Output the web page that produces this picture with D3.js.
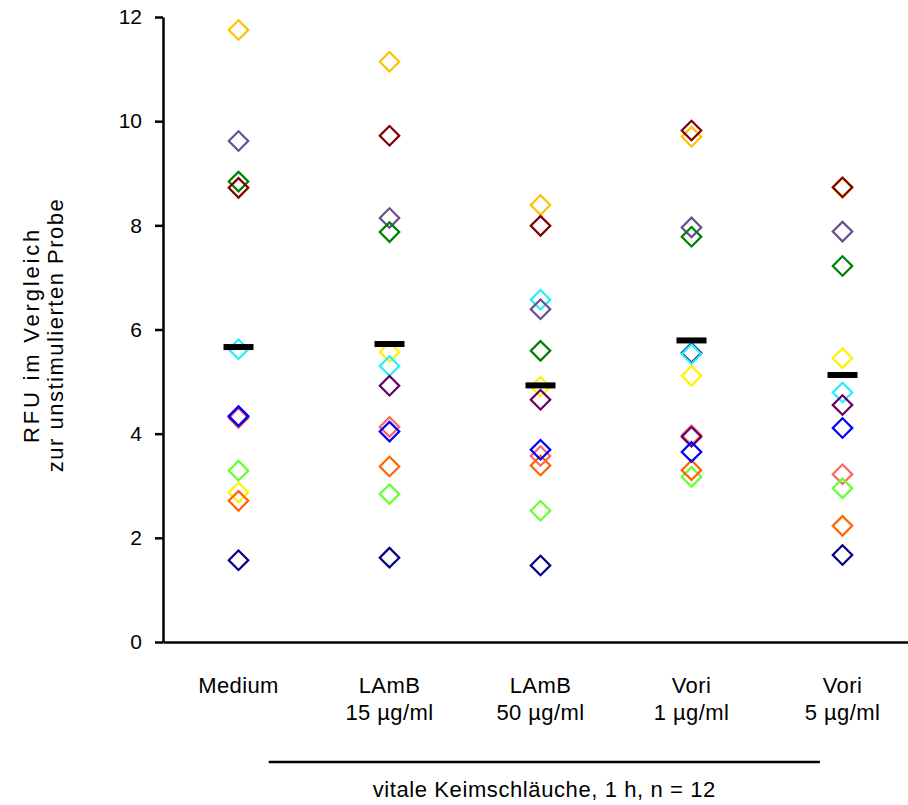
<!DOCTYPE html>
<html>
<head>
<meta charset="utf-8">
<script src="https://cdn.jsdelivr.net/npm/d3@7/dist/d3.min.js"></script>
<style>
  html, body { margin: 0; padding: 0; background: #fff; }
  svg { display: block; }
  text { font-family: "Liberation Sans", Arial, sans-serif; fill: #000; }
</style>
</head>
<body>
<svg id="chart" width="908" height="805"></svg>
<script>
// Treatment groups (two-line labels)
const categories = ["Medium", "LAmB 15", "LAmB 50", "Vori 1", "Vori 5"];
const labelLine1 = ["Medium", "LAmB", "LAmB", "Vori", "Vori"];
const labelLine2 = ["", "15 µg/ml", "50 µg/ml", "1 µg/ml", "5 µg/ml"];
const yTicks = [0, 2, 4, 6, 8, 10, 12];

// One donor per series, values per group in category order; listed in drawing order
const navy       = [1.57, 1.62, 1.47, 5.55, 1.67];
const yellow     = [2.87, 5.57, 4.90, 5.11, 5.45];
const cyan       = [5.62, 5.30, 6.57, 5.53, 4.79];
const salmon     = [4.30, 4.13, 3.57, 3.97, 3.22];
const lightGreen = [3.29, 2.84, 2.52, 3.17, 2.95];
const orange     = [2.71, 3.37, 3.39, 3.30, 2.23];
const gold       = [11.75, 11.14, 8.39, 9.70, 8.72];
const greyPurple = [9.62, 8.14, 6.39, 7.96, 7.88];
const green      = [8.84, 7.87, 5.59, 7.78, 7.22];
const darkRed    = [8.72, 9.72, 7.99, 9.82, 8.73];
const darkPurple = [4.33, 4.92, 4.65, 3.94, 4.55];
const blue       = [4.34, 4.04, 3.69, 3.65, 4.11];

const series = [
  { values: navy,       color: "#000080" },
  { values: yellow,     color: "#FFF200" },
  { values: cyan,       color: "#22EEFF" },
  { values: salmon,     color: "#FF6666" },
  { values: lightGreen, color: "#66FF33" },
  { values: orange,     color: "#FF6600" },
  { values: gold,       color: "#FFC000" },
  { values: greyPurple, color: "#665191" },
  { values: green,      color: "#008000" },
  { values: darkRed,    color: "#800000" },
  { values: darkPurple, color: "#660066" },
  { values: blue,       color: "#0000FF" }
];

const svg = d3.select("#chart");

const x = d3.scaleBand().domain(categories).range([163, 918]);
const y = d3.scaleLinear().domain([0, 12]).range([642, 17]);

// Y axis
const yAxis = svg.append("g")
  .attr("transform", "translate(163,0)")
  .call(d3.axisLeft(y).tickValues(yTicks).tickSize(8).tickSizeOuter(0).tickPadding(13));
yAxis.selectAll("path, line").attr("stroke", "#000").attr("stroke-width", 2.5);
yAxis.selectAll("text").attr("font-size", 21).attr("font-family", "Liberation Sans, Arial, sans-serif").attr("fill", "#000");

// X axis line
const xAxis = svg.append("g")
  .attr("transform", "translate(0,642)")
  .call(d3.axisBottom(x).tickSize(0).tickSizeOuter(0).tickFormat(""));
xAxis.select("path").attr("stroke", "#000").attr("stroke-width", 2.5);

// Group labels
const lbl = svg.append("g").attr("font-size", 22).attr("text-anchor", "middle").style("letter-spacing", "0.4px");
categories.forEach((c, i) => {
  const cx = x(c) + x.bandwidth() / 2;
  lbl.append("text").attr("x", cx).attr("y", 693).text(labelLine1[i]);
  if (labelLine2[i]) lbl.append("text").attr("x", cx).attr("y", 720).text(labelLine2[i]);
});

// Y title
svg.append("g")
  .attr("transform", "translate(0,335) rotate(-90)")
  .attr("font-size", 22).attr("text-anchor", "middle")
  .call(g => {
    g.append("text").attr("x", 0).attr("y", 39).style("letter-spacing", "2.8px").text("RFU im Vergleich");
    g.append("text").attr("x", 0).attr("y", 63).style("letter-spacing", "1.5px").text("zur unstimulierten Probe");
  });

// Points (open diamonds)
const diamond = d3.symbol().type(d3.symbolSquare).size(190);
series.forEach(s => {
  svg.append("g").selectAll("path")
    .data(s.values)
    .join("path")
    .attr("d", diamond)
    .attr("transform", (v, i) => `translate(${x(categories[i]) + x.bandwidth() / 2},${y(v)}) rotate(45)`)
    .attr("fill", "none")
    .attr("stroke", s.color)
    .attr("stroke-width", 2.2);
});

// Group means
const means = categories.map((c, i) => d3.mean(series, s => s.values[i]));
svg.append("g").selectAll("rect")
  .data(means)
  .join("rect")
  .attr("x", (m, i) => x(categories[i]) + x.bandwidth() / 2 - 15)
  .attr("y", m => y(m) - 3)
  .attr("width", 30)
  .attr("height", 6)
  .attr("fill", "#000");

// Bracket line and caption
const bx0 = x(categories[0]) + x.bandwidth() * 0.7;
const bx1 = x(categories[4]) + x.bandwidth() * 0.35;
svg.append("line")
  .attr("x1", bx0).attr("x2", bx1).attr("y1", 762).attr("y2", 762)
  .attr("stroke", "#000").attr("stroke-width", 2.5);
svg.append("text")
  .attr("x", (bx0 + bx1) / 2).attr("y", 797)
  .attr("font-size", 22).attr("text-anchor", "middle").style("letter-spacing", "0.6px")
  .text("vitale Keimschläuche, 1 h, n = 12");
</script>
</body>
</html>
